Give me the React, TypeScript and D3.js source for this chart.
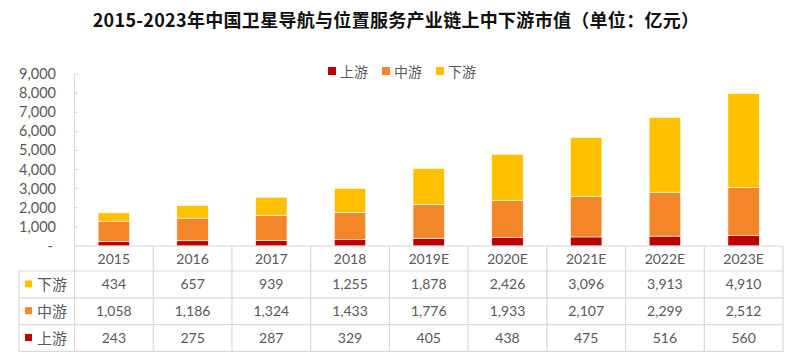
import React, { useEffect, useRef } from 'react';
import * as d3 from 'd3';

const years = ['2015', '2016', '2017', '2018', '2019E', '2020E', '2021E', '2022E', '2023E'];
const upstream = [243, 275, 287, 329, 405, 438, 475, 516, 560];
const midstream = [1058, 1186, 1324, 1433, 1776, 1933, 2107, 2299, 2512];
const downstream = [434, 657, 939, 1255, 1878, 2426, 3096, 3913, 4910];
const seriesNames = ['上游', '中游', '下游'];
const seriesColors = ['#C00000', '#F4862A', '#FFC000'];
const yTicks = [0, 1000, 2000, 3000, 4000, 5000, 6000, 7000, 8000, 9000];
const title = '2015-2023年中国卫星导航与位置服务产业链上中下游市值（单位：亿元）';

const FONT = "Lato, 'Noto Sans CJK SC', sans-serif";
const GRID = '#d9d9d9';
const TEXT = '#595959';

const App = () => {
  const ref = useRef<SVGSVGElement>(null);

  useEffect(() => {
    const width = 800;
    const height = 363;
    const left = 74.5;
    const right = 783;
    const top = 74;
    const bottom = 246;
    const rowH = 26.8;
    const headerH = 25;

    const svg = d3.select(ref.current);
    svg.selectAll('*').remove();
    svg.attr('width', width).attr('height', height);

    const x = d3.scaleBand().domain(years).range([left, right]).paddingInner(0).paddingOuter(0);
    const y = d3.scaleLinear().domain([0, 9000]).range([bottom, top]);
    const fmt = d3.format(',');

    // title
    svg.append('text')
      .attr('x', 396).attr('y', 27)
      .attr('text-anchor', 'middle')
      .attr('font-family', "'Noto Sans CJK SC', sans-serif")
      .attr('font-weight', 'bold')
      .attr('font-size', 18)
      .attr('letter-spacing', 0.3)
      .attr('fill', '#111')
      .text(title);

    // legend
    const legend = svg.append('g').attr('font-family', "'Noto Sans CJK SC', sans-serif");
    seriesNames.forEach((name, i) => {
      const lx = 328 + i * 54;
      legend.append('rect').attr('x', lx).attr('y', 67).attr('width', 8).attr('height', 8).attr('fill', seriesColors[i]);
      legend.append('text').attr('x', lx + 12).attr('y', 77).attr('font-size', 14).attr('fill', TEXT).text(name);
    });

    // stacked bars
    const rows = years.map((yr, i) => ({ year: yr, up: upstream[i], mid: midstream[i], down: downstream[i] }));
    const stack = d3.stack<any>().keys(['up', 'mid', 'down']);
    const stacked = stack(rows);
    const barW = x.bandwidth() * 0.4;
    svg.append('g').selectAll('g')
      .data(stacked)
      .enter().append('g')
      .attr('fill', (d, i) => seriesColors[i])
      .selectAll('rect')
      .data(d => d)
      .enter().append('rect')
      .attr('x', d => (x(d.data.year) as number) + (x.bandwidth() - barW) / 2)
      .attr('y', d => y(d[1]))
      .attr('width', barW)
      .attr('height', d => y(d[0]) - y(d[1]))
      .attr('stroke', '#fff')
      .attr('stroke-width', 0.6);

    // y axis
    const ax = svg.append('g');
    ax.append('line').attr('x1', left).attr('x2', left).attr('y1', top).attr('y2', bottom).attr('stroke', GRID);
    yTicks.forEach(t => {
      ax.append('line').attr('x1', left).attr('x2', left + 4).attr('y1', y(t)).attr('y2', y(t)).attr('stroke', GRID);
      ax.append('text')
        .attr('x', t === 0 ? 53 : 56)
        .attr('y', y(t) + 5)
        .attr('text-anchor', 'end')
        .attr('font-family', FONT)
        .attr('font-size', 14.5)
        .attr('fill', TEXT)
        .text(t === 0 ? '-' : fmt(t));
    });

    // data table
    const tbl = svg.append('g').attr('font-family', FONT).attr('fill', TEXT);
    const tLeft = 19;
    const tableRows = [downstream, midstream, upstream];
    const rowColors = [seriesColors[2], seriesColors[1], seriesColors[0]];
    const rowNames = [seriesNames[2], seriesNames[1], seriesNames[0]];
    const headBottom = bottom + headerH;
    const tBottom = headBottom + rowH * 3;

    const lines = tbl.append('g').attr('stroke', GRID).attr('stroke-width', 1.2);
    // horizontal lines
    lines.append('line').attr('x1', left).attr('x2', right).attr('y1', bottom).attr('y2', bottom);
    for (let r = 0; r <= 3; r++) {
      const ly = headBottom + r * rowH;
      lines.append('line').attr('x1', tLeft).attr('x2', right).attr('y1', ly).attr('y2', ly);
    }
    // vertical lines
    lines.append('line').attr('x1', tLeft).attr('x2', tLeft).attr('y1', headBottom).attr('y2', tBottom);
    years.forEach(yr => {
      const vx = x(yr) as number;
      lines.append('line').attr('x1', vx).attr('x2', vx).attr('y1', bottom).attr('y2', tBottom);
    });
    lines.append('line').attr('x1', right).attr('x2', right).attr('y1', bottom).attr('y2', tBottom);

    // header
    years.forEach(yr => {
      tbl.append('text')
        .attr('x', (x(yr) as number) + x.bandwidth() / 2)
        .attr('y', bottom + headerH / 2 + 5)
        .attr('text-anchor', 'middle')
        .attr('font-size', 14)
        .text(yr);
    });

    tableRows.forEach((vals, r) => {
      const cy = headBottom + r * rowH + rowH / 2;
      tbl.append('rect').attr('x', 25).attr('y', cy - 4).attr('width', 7).attr('height', 7).attr('fill', rowColors[r]);
      tbl.append('text')
        .attr('x', 37).attr('y', cy + 5.5)
        .attr('font-family', "'Noto Sans CJK SC', sans-serif")
        .attr('font-size', 15)
        .text(rowNames[r]);
      vals.forEach((v, i) => {
        tbl.append('text')
          .attr('x', (x(years[i]) as number) + x.bandwidth() / 2)
          .attr('y', cy + 5)
          .attr('text-anchor', 'middle')
          .attr('font-size', 14)
          .text(fmt(v));
      });
    });
  }, []);

  return <svg ref={ref} style={{ position: 'absolute', left: 0, top: 0, background: '#fff' }}></svg>;
};

export default App;
